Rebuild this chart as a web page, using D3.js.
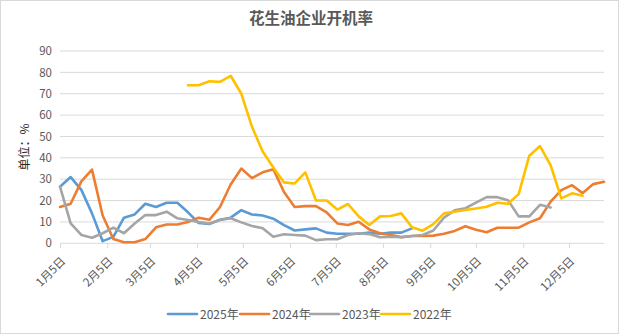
<!DOCTYPE html>
<html>
<head>
<meta charset="utf-8">
<script src="https://cdn.jsdelivr.net/npm/d3@7/dist/d3.min.js"></script>
<style>
  html, body { margin: 0; padding: 0; background: #fff; }
  svg { display: block; font-family: "Noto Sans CJK SC", "Microsoft YaHei", sans-serif; }
</style>
</head>
<body>
<svg id="chart" width="619" height="335"></svg>
<script>
// Weekly operating rate of peanut-oil mills (%), one value per week starting 1月5日
const seriesNames = ["2025年", "2024年", "2023年", "2022年"];
const seriesColors = ["#5B9BD5", "#ED7D31", "#A5A5A5", "#FFC000"];

const values2025 = [26.5, 31, 25, 14, 1, 3, 12, 13.5, 18.5, 17, 19, 19, 14.5, 9.5, 9, 11, 12, 15.5,
  13.5, 13, 11.5, 8.5, 6, 6.5, 7, 5, 4.5, 4.5, 4.5, 5, 4.5, 5, 5, 7,
  null, null, null, null, null, null, null, null, null, null, null, null, null, null, null, null, null, null];

const values2024 = [17, 18.5, 29, 34.5, 13, 2, 0.5, 0.5, 2, 7.5, 8.8, 8.8, 10, 12, 11, 17, 27.5, 35,
  30.5, 33.2, 34.7, 24, 17, 17.4, 17.4, 14.5, 9.3, 8.6, 10.1, 6.5, 4.7, 3.9, 2.9, 3.4, 3.4, 3.6,
  4.5, 5.8, 8, 6.3, 5.2, 7.3, 7.3, 7.3, 9.8, 11.7, 19.5, 24.9, 27.2, 23.5, 27.7, 28.8];

const values2023 = [26.5, 9.3, 3.9, 2.6, 4.7, 7.3, 4.7, 9.3, 13.2, 13.2, 14.8, 11.7, 10.9, 10, 9.3, 10.9,
  11.7, 9.8, 8.1, 7, 3.1, 4.2, 3.9, 3.6, 1.5, 1.9, 1.9, 3.9, 4.7, 4.3, 2.8, 3.1, 2.8, 3.4, 3.9,
  6, 12, 15.4, 16.4, 19, 21.6, 21.6, 20.2, 12.6, 12.6, 18, 16.8,
  null, null, null, null, null];

const values2022 = [null, null, null, null, null, null, null, null, null, null, null, null,
  74, 74, 75.8, 75.6, 78.4, 70, 54.5, 43, 35.5, 28.5, 28, 33.2, 20, 20, 15.8, 18.4, 12.6, 8.6,
  12.6, 12.8, 14, 7.5, 5.9, 9, 14, 14.8, 15.6, 16.3, 17.1, 19, 18.5, 23, 41, 45.5, 36.5, 21,
  23.4, 22.3, null, null];

const yTicks = [0, 10, 20, 30, 40, 50, 60, 70, 80, 90];
const xTickLabels = ["1月5日", "2月5日", "3月5日", "4月5日", "5月5日", "6月5日",
  "7月5日", "8月5日", "9月5日", "10月5日", "11月5日", "12月5日"];

const allSeries = [values2025, values2024, values2023, values2022];

const svg = d3.select("#chart");
const W = 619, H = 335;
const plot = { left: 60, right: 604, top: 51, bottom: 243.3 };

// outer frame
svg.append("rect")
  .attr("x", 0.5).attr("y", 0.5).attr("width", W - 1).attr("height", H - 2)
  .attr("fill", "#fff").attr("stroke", "#d9d9d9");

const startDate = new Date(2025, 0, 5);
const weekDates = d3.range(values2024.length).map(i => d3.timeDay.offset(startDate, 7 * i));

const x = d3.scaleTime()
  .domain([startDate, weekDates[weekDates.length - 1]])
  .range([plot.left, plot.right]);

const y = d3.scaleLinear()
  .domain([0, 90])
  .range([plot.bottom, plot.top]);

// horizontal gridlines
svg.append("g")
  .selectAll("line")
  .data(yTicks.filter(t => t > 0))
  .join("line")
  .attr("x1", plot.left).attr("x2", plot.right)
  .attr("y1", d => y(d)).attr("y2", d => y(d))
  .attr("stroke", "#d9d9d9").attr("stroke-width", 1);

// y axis labels
const yAxis = d3.axisLeft(y).tickValues(yTicks).tickSize(0).tickPadding(8);
const gy = svg.append("g").attr("transform", `translate(${plot.left},0)`).call(yAxis);
gy.select(".domain").remove();
gy.selectAll("text")
  .attr("fill", "#595959")
  .style("font-size", "11.5px")
  .style("font-family", "'Noto Sans CJK SC', sans-serif");

// x axis with month ticks
const tickDates = xTickLabels.map((_, m) => new Date(2025, m, 5));
const xAxis = d3.axisBottom(x)
  .tickValues(tickDates)
  .tickSize(5)
  .tickFormat((d, i) => xTickLabels[i]);
const gx = svg.append("g").attr("transform", `translate(0,${plot.bottom})`).call(xAxis);
gx.select(".domain").attr("stroke", "#d9d9d9").attr("d", `M${plot.left},0H${plot.right}`);
gx.selectAll(".tick line").attr("stroke", "#d9d9d9");
gx.selectAll("text")
  .attr("fill", "#595959")
  .style("font-size", "11.5px")
  .style("font-family", "'Noto Sans CJK SC', sans-serif")
  .attr("text-anchor", "end")
  .attr("dy", "0")
  .attr("transform", "translate(0,13) rotate(-45)");

// series lines
const line = d3.line()
  .defined(d => d != null)
  .x((d, i) => x(weekDates[i]))
  .y(d => y(d));

svg.append("g")
  .selectAll("path")
  .data(allSeries)
  .join("path")
  .attr("d", d => line(d))
  .attr("fill", "none")
  .attr("stroke", (d, i) => seriesColors[i])
  .attr("stroke-width", 2.6)
  .attr("stroke-linejoin", "round")
  .attr("stroke-linecap", "round");

// title
svg.append("text")
  .attr("x", 311).attr("y", 24)
  .attr("text-anchor", "middle")
  .attr("fill", "#595959")
  .style("font-size", "15.5px")
  .style("font-weight", "bold")
  .text("花生油企业开机率");

// y axis unit label
svg.append("text")
  .attr("transform", "translate(29,147) rotate(-90)")
  .attr("text-anchor", "middle")
  .attr("fill", "#262626")
  .style("font-size", "12px")
  .text("单位：%");

// legend
const legendX = [168, 240, 310, 381];
const legend = svg.append("g");
seriesNames.forEach((name, i) => {
  const g = legend.append("g").attr("transform", `translate(${legendX[i]},314)`);
  g.append("line").attr("x1", 0).attr("x2", 29).attr("y1", 0).attr("y2", 0)
    .attr("stroke", seriesColors[i]).attr("stroke-width", 2.6).attr("stroke-linecap", "round");
  g.append("text").attr("x", 32).attr("y", 4.5)
    .attr("fill", "#595959").style("font-size", "12px").text(name);
});
</script>
</body>
</html>
